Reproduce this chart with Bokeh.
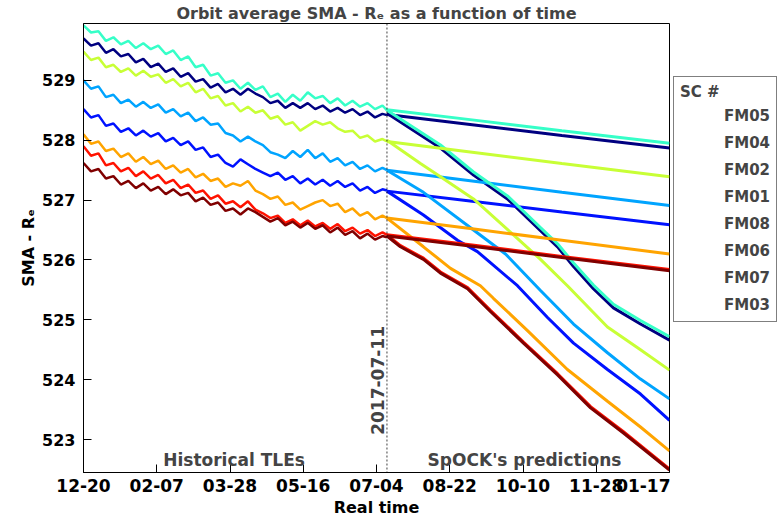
import math
from bokeh.plotting import figure
from bokeh.layouts import row
from bokeh.models import (Legend, LegendItem, FixedTicker, Span, Label, Range1d)
from bokeh.embed import file_html
from bokeh.resources import INLINE

# ---------------- data ----------------
sc_names = ["FM05", "FM04", "FM02", "FM01", "FM08", "FM06", "FM07", "FM03"]
sc_colors = ["#000080", "#0012FF", "#00A4FF", "#36FFC8", "#C8FF36", "#FFA400", "#FF1200", "#800000"]

# x axis: days since 2016-12-20
tick_days = [0, 49, 98, 147, 196, 245, 294, 343, 392]
tick_labels = ["12-20", "02-07", "03-28", "05-16", "07-04", "08-22", "10-10", "11-28", "01-17"]
y_ticks = [523, 524, 525, 526, 527, 528, 529]
split_day = 203
split_label = "2017-07-11"

# historical TLE orbit-averaged SMA
hist_days = [0, 5, 10, 15, 20, 25, 30, 35, 40, 45, 50, 55, 60, 65, 70, 75, 80, 85, 90, 95, 100,
             105, 110, 115, 120, 125, 130, 135, 140, 145, 150, 155, 160, 165, 170, 175, 180, 185,
             190, 195, 200, 203]
hist_FM05 = [529.70, 529.58, 529.62, 529.46, 529.52, 529.40, 529.44, 529.30, 529.36, 529.22, 529.28,
             529.14, 529.20, 529.06, 529.12, 528.98, 529.02, 528.88, 528.94, 528.80, 528.86, 528.76,
             528.86, 528.78, 528.72, 528.62, 528.66, 528.54, 528.62, 528.54, 528.62, 528.52, 528.58,
             528.48, 528.54, 528.46, 528.52, 528.42, 528.48, 528.38, 528.44, 528.42]
hist_FM04 = [528.52, 528.38, 528.42, 528.24, 528.28, 528.14, 528.20, 528.08, 528.16, 528.06, 528.12,
             527.98, 528.04, 527.92, 527.98, 527.84, 527.88, 527.72, 527.76, 527.62, 527.56, 527.68,
             527.60, 527.52, 527.46, 527.40, 527.46, 527.34, 527.40, 527.28, 527.36, 527.26, 527.34,
             527.24, 527.32, 527.22, 527.28, 527.16, 527.22, 527.12, 527.18, 527.16]
hist_FM02 = [529.00, 528.86, 528.90, 528.72, 528.76, 528.62, 528.68, 528.56, 528.64, 528.54, 528.60,
             528.46, 528.52, 528.40, 528.46, 528.32, 528.38, 528.26, 528.28, 528.12, 528.08, 527.98,
             528.06, 527.98, 527.92, 527.80, 527.76, 527.70, 527.82, 527.72, 527.84, 527.70, 527.78,
             527.64, 527.70, 527.58, 527.64, 527.52, 527.58, 527.48, 527.54, 527.50]
hist_FM01 = [529.92, 529.80, 529.82, 529.66, 529.72, 529.60, 529.66, 529.54, 529.62, 529.52, 529.58,
             529.44, 529.50, 529.34, 529.40, 529.22, 529.26, 529.08, 529.12, 528.96, 529.00, 528.86,
             528.96, 528.84, 528.90, 528.72, 528.78, 528.64, 528.76, 528.66, 528.80, 528.70, 528.74,
             528.62, 528.70, 528.58, 528.66, 528.56, 528.62, 528.52, 528.58, 528.50]
hist_FM08 = [529.48, 529.34, 529.38, 529.22, 529.26, 529.14, 529.20, 529.08, 529.16, 529.06, 529.10,
             528.96, 529.02, 528.90, 528.96, 528.80, 528.86, 528.70, 528.74, 528.58, 528.62, 528.48,
             528.56, 528.46, 528.50, 528.36, 528.40, 528.26, 528.30, 528.16, 528.24, 528.32, 528.26,
             528.30, 528.20, 528.14, 528.16, 528.04, 528.08, 527.98, 528.02, 527.98]
hist_FM06 = [528.10, 527.94, 527.98, 527.82, 527.86, 527.72, 527.78, 527.64, 527.72, 527.60, 527.66,
             527.52, 527.58, 527.46, 527.52, 527.38, 527.44, 527.32, 527.36, 527.22, 527.28, 527.24,
             527.32, 527.16, 527.10, 527.02, 527.06, 526.92, 526.96, 526.84, 526.90, 526.96, 527.00,
             526.90, 526.94, 526.80, 526.86, 526.74, 526.80, 526.68, 526.74, 526.70]
hist_FM07 = [527.90, 527.74, 527.78, 527.58, 527.62, 527.48, 527.54, 527.40, 527.48, 527.36, 527.42,
             527.28, 527.34, 527.20, 527.26, 527.12, 527.16, 527.02, 527.08, 526.94, 526.98, 526.88,
             526.98, 526.84, 526.78, 526.70, 526.74, 526.62, 526.68, 526.58, 526.66, 526.56, 526.62,
             526.52, 526.60, 526.48, 526.54, 526.44, 526.50, 526.40, 526.46, 526.42]
hist_FM03 = [527.62, 527.48, 527.52, 527.36, 527.40, 527.26, 527.32, 527.20, 527.28, 527.16, 527.22,
             527.10, 527.18, 527.08, 527.12, 526.98, 527.04, 526.92, 526.96, 526.82, 526.86, 526.76,
             526.86, 526.80, 526.72, 526.64, 526.70, 526.58, 526.64, 526.54, 526.62, 526.52, 526.58,
             526.46, 526.54, 526.42, 526.48, 526.36, 526.44, 526.34, 526.40, 526.38]

# SpOCK predictions: slow-decay scenario
slow_days = [203, 260, 320, 392]
slow_FM05 = [528.43, 528.26, 528.08, 527.87]
slow_FM04 = [527.15, 526.98, 526.80, 526.59]
slow_FM02 = [527.50, 527.32, 527.13, 526.91]
slow_FM01 = [528.51, 528.34, 528.16, 527.95]
slow_FM08 = [527.98, 527.80, 527.61, 527.39]
slow_FM06 = [526.70, 526.52, 526.33, 526.10]
slow_FM07 = [526.42, 526.25, 526.06, 525.84]
slow_FM03 = [526.40, 526.23, 526.04, 525.82]

# SpOCK predictions: fast-decay scenario
fast_days_FM05 = [203, 238.8, 260.9, 283.6, 305.7, 317.1, 327.8, 341.1, 354.5, 372.6, 392]
fast_FM05 = [528.45, 527.87, 527.42, 527.02, 526.49, 526.22, 525.89, 525.52, 525.20, 524.93, 524.66]
fast_days_FM01 = [203, 238.8, 260.9, 283.6, 305.7, 317.1, 327.8, 341.1, 354.5, 372.6, 392]
fast_FM01 = [528.50, 527.92, 527.47, 527.07, 526.54, 526.27, 525.95, 525.58, 525.26, 524.99, 524.72]
fast_days_FM08 = [203, 225.4, 238.8, 260.9, 287.6, 305.7, 323.7, 350.5, 372.6, 392]
fast_FM08 = [528.00, 527.61, 527.39, 527.02, 526.42, 526.01, 525.57, 524.88, 524.50, 524.16]
fast_days_FM02 = [203, 227.4, 260.9, 282.3, 305.7, 327.8, 350.5, 372.6, 392]
fast_FM02 = [527.50, 527.13, 526.50, 526.10, 525.49, 524.93, 524.45, 524.01, 523.68]
fast_days_FM04 = [203, 227.4, 250.2, 263.5, 290.3, 310.4, 327.8, 350.5, 372.6, 392]
fast_FM04 = [527.15, 526.75, 526.33, 526.14, 525.57, 525.04, 524.61, 524.17, 523.76, 523.32]
fast_days_FM06 = [203, 227.4, 245.5, 265.5, 274.2, 297.0, 323.7, 350.5, 372.6, 392]
fast_FM06 = [526.70, 526.22, 525.86, 525.57, 525.36, 524.82, 524.17, 523.64, 523.21, 522.81]
fast_days_FM07 = [203, 212, 227.4, 238.8, 256.9, 272.2, 294.3, 317.1, 339.2, 361.2, 392]
fast_FM07 = [526.42, 526.24, 526.03, 525.80, 525.54, 525.16, 524.63, 524.10, 523.55, 523.13, 522.51]
fast_days_FM03 = [203, 212, 227.4, 238.8, 256.9, 272.2, 294.3, 317.1, 339.2, 361.2, 392]
fast_FM03 = [526.40, 526.22, 526.01, 525.78, 525.52, 525.14, 524.61, 524.08, 523.53, 523.11, 522.49]

hist = {"FM05": hist_FM05, "FM04": hist_FM04, "FM02": hist_FM02, "FM01": hist_FM01,
        "FM08": hist_FM08, "FM06": hist_FM06, "FM07": hist_FM07, "FM03": hist_FM03}
slow = {"FM05": slow_FM05, "FM04": slow_FM04, "FM02": slow_FM02, "FM01": slow_FM01,
        "FM08": slow_FM08, "FM06": slow_FM06, "FM07": slow_FM07, "FM03": slow_FM03}
fast = {"FM05": (fast_days_FM05, fast_FM05), "FM04": (fast_days_FM04, fast_FM04),
        "FM02": (fast_days_FM02, fast_FM02), "FM01": (fast_days_FM01, fast_FM01),
        "FM08": (fast_days_FM08, fast_FM08), "FM06": (fast_days_FM06, fast_FM06),
        "FM07": (fast_days_FM07, fast_FM07), "FM03": (fast_days_FM03, fast_FM03)}

FONT = "DejaVu Sans"

# ---------------- main figure ----------------
p = figure(width=670, height=519, x_range=Range1d(0, 392), y_range=Range1d(522.45, 529.95),
           output_backend="svg", toolbar_location=None,
           min_border_left=83, min_border_right=1, min_border_top=0, min_border_bottom=0,
           title="Orbit average SMA - R\u2091 as a function of time")
p.title.align = "center"
p.title.text_font = FONT
p.title.text_font_size = "16px"
p.title.text_font_style = "bold"
p.title.standoff = 2
p.background_fill_color = "white"
p.border_fill_color = "white"
p.outline_line_color = "black"
p.outline_line_width = 1
p.xgrid.visible = False
p.ygrid.visible = False

xa = p.xaxis[0]
xa.ticker = FixedTicker(ticks=tick_days)
xa.major_label_overrides = {d: l for d, l in zip(tick_days, tick_labels)}
xa.axis_label = "Real time"
ya = p.yaxis[0]
ya.ticker = FixedTicker(ticks=y_ticks)
ya.axis_label = "SMA - R\u2091"
for ax in (xa, ya):
    ax.major_tick_in = 8
    ax.major_tick_out = 0
    ax.minor_tick_line_color = None
    ax.axis_line_color = "black"
    ax.major_label_text_font = FONT
    ax.major_label_text_font_style = "bold"
    ax.axis_label_text_font = FONT
    ax.axis_label_text_font_style = "bold"
    ax.axis_label_text_font_size = "16px"
    ax.major_label_text_color = "black"
    ax.axis_label_text_color = "black"
xa.major_label_text_font_size = "17px"
xa.major_label_standoff = 6
xa.axis_label_standoff = 3
ya.major_label_text_font_size = "16px"
ya.major_label_standoff = 8
ya.axis_label_standoff = 1

for name, color in zip(sc_names, sc_colors):
    p.line(hist_days, hist[name], line_color=color, line_width=2.5)
    p.line(slow_days, slow[name], line_color=color, line_width=3)
    fd, fv = fast[name]
    p.line(fd, fv, line_color=color, line_width=3)

p.add_layout(Span(location=split_day, dimension="height", line_color="black", line_alpha=0.75,
                  line_dash="2 2", line_width=1))

p.add_layout(Label(x=split_day, y=523.08, text=split_label, angle=math.pi / 2,
                   text_align="left", text_baseline="bottom", x_offset=-3,
                   text_font=FONT, text_font_style="bold", text_font_size="17px"))
p.add_layout(Label(x=100.7, y=522.66, text="Historical TLEs", text_align="center",
                   text_baseline="alphabetic", text_font=FONT, text_font_style="bold",
                   text_font_size="17px"))
p.add_layout(Label(x=295, y=522.66, text="SpOCK's predictions", text_align="center",
                   text_baseline="alphabetic", text_font=FONT, text_font_style="bold",
                   text_font_size="17px"))

# ---------------- legend panel (separate narrow figure) ----------------
pl = figure(width=110, height=519, x_range=Range1d(0, 1), y_range=Range1d(0, 1),
            output_backend="svg", toolbar_location=None,
            x_axis_location=None, y_axis_location=None,
            min_border_left=0, min_border_right=0, min_border_top=0, min_border_bottom=0)
pl.outline_line_color = None
pl.xgrid.visible = False
pl.ygrid.visible = False
pl.background_fill_color = "white"
pl.border_fill_color = "white"

legend_items = []
for name, color in zip(sc_names, sc_colors):
    r = pl.line([], [], line_color=color, line_width=2.5)
    legend_items.append(LegendItem(label=name, renderers=[r]))

legend = Legend(items=legend_items, title="SC #", location=(3, 150))
legend.title_text_font = FONT
legend.title_text_font_style = "bold"
legend.title_text_font_size = "15px"
legend.label_text_font = FONT
legend.label_text_font_style = "bold"
legend.label_text_font_size = "15px"
legend.glyph_width = 36
legend.glyph_height = 20
legend.label_height = 20
legend.label_standoff = 8
legend.spacing = 7
legend.padding = 6
legend.margin = 0
legend.border_line_color = "black"
legend.border_line_width = 1
legend.background_fill_color = "white"
pl.add_layout(legend)

layout = row(p, pl)
open("out.html", "w").write(file_html(layout, INLINE))
